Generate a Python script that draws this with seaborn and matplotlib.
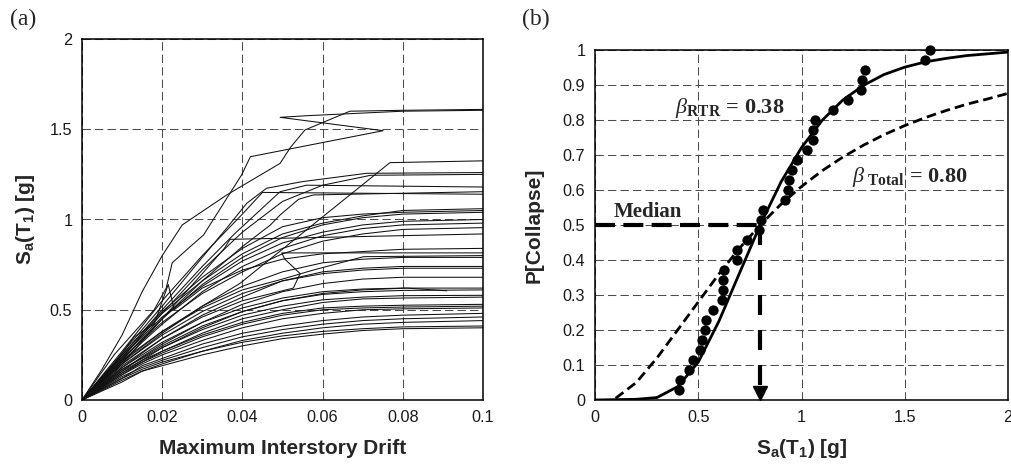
import matplotlib
matplotlib.use("Agg")
import matplotlib.pyplot as plt
import numpy as np
import pandas as pd
import seaborn as sns

# ---------------- data : panel (a) IDA curves ----------------
IDA_DRIFT = [0, 0.01, 0.015, 0.02, 0.03, 0.04, 0.05, 0.06, 0.07, 0.08, 0.1]

ida_low = [
    [0, 0.11, 0.16, 0.19, 0.25, 0.30, 0.34, 0.365, 0.385, 0.395, 0.40],
    [0, 0.12, 0.17, 0.21, 0.27, 0.32, 0.355, 0.38, 0.395, 0.405, 0.41],
    [0, 0.10, 0.16, 0.20, 0.27, 0.33, 0.37, 0.40, 0.42, 0.43, 0.44],
    [0, 0.13, 0.18, 0.22, 0.29, 0.35, 0.39, 0.42, 0.44, 0.45, 0.46],
    [0, 0.12, 0.19, 0.23, 0.31, 0.37, 0.41, 0.44, 0.46, 0.47, 0.48],
    [0, 0.14, 0.20, 0.25, 0.33, 0.40, 0.45, 0.48, 0.50, 0.505, 0.51],
    [0, 0.15, 0.21, 0.26, 0.35, 0.42, 0.47, 0.50, 0.51, 0.515, 0.52],
    [0, 0.16, 0.22, 0.27, 0.36, 0.43, 0.48, 0.51, 0.52, 0.525, 0.53],
    [0, 0.14, 0.21, 0.27, 0.37, 0.45, 0.50, 0.54, 0.56, 0.565, 0.57],
    [0, 0.17, 0.23, 0.29, 0.39, 0.47, 0.52, 0.555, 0.57, 0.578, 0.58],
    [0, 0.15, 0.22, 0.29, 0.40, 0.49, 0.55, 0.585, 0.60, 0.607, 0.61],
    [0, 0.18, 0.25, 0.32, 0.43, 0.51, 0.565, 0.60, 0.615, 0.62, 0.62],
]

ida_mid = [
    [0, 0.16, 0.24, 0.31, 0.43, 0.53, 0.60, 0.645, 0.67, 0.68, 0.68],
    [0, 0.20, 0.28, 0.36, 0.49, 0.59, 0.66, 0.70, 0.72, 0.73, 0.73],
    [0, 0.18, 0.26, 0.34, 0.47, 0.57, 0.66, 0.71, 0.73, 0.74, 0.74],
    [0, 0.22, 0.30, 0.38, 0.52, 0.63, 0.71, 0.76, 0.78, 0.79, 0.79],
    [0, 0.23, 0.33, 0.43, 0.59, 0.71, 0.81, 0.88, 0.92, 0.945, 0.955],
    [0, 0.21, 0.32, 0.42, 0.60, 0.74, 0.84, 0.91, 0.95, 0.97, 0.98],
    [0, 0.24, 0.35, 0.46, 0.63, 0.77, 0.87, 0.93, 0.97, 0.99, 1.0],
    [0, 0.22, 0.34, 0.45, 0.64, 0.79, 0.90, 0.97, 1.01, 1.03, 1.04],
    [0, 0.25, 0.37, 0.49, 0.68, 0.84, 0.96, 1.01, 1.03, 1.04, 1.05],
    [0, 0.23, 0.36, 0.48, 0.66, 0.81, 0.92, 0.98, 1.02, 1.05, 1.06],
]

# irregular records (own drift points)
rec_a_drift = [0, 0.005, 0.01, 0.015, 0.02, 0.025, 0.0361, 0.0494, 0.052, 0.0556, 0.0668, 0.08, 0.1]
rec_a_sa = [0, 0.17, 0.36, 0.60, 0.80, 0.97, 1.136, 1.311, 1.40, 1.496, 1.60, 1.605, 1.61]
rec_b_drift = [0, 0.008, 0.014, 0.018, 0.021, 0.0225, 0.027, 0.0303, 0.0398, 0.042, 0.0751, 0.0494, 0.056, 0.08, 0.1]
rec_b_sa = [0, 0.25, 0.40, 0.50, 0.62, 0.76, 0.85, 0.914, 1.247, 1.348, 1.492, 1.566, 1.575, 1.60, 1.605]
rec_c_drift = [0, 0.01, 0.02, 0.03, 0.0394, 0.0768, 0.1]
rec_c_sa = [0, 0.20, 0.37, 0.52, 0.646, 1.315, 1.325]
rec_d_drift = [0, 0.01, 0.02, 0.03, 0.036, 0.0411, 0.046, 0.055, 0.071, 0.1]
rec_d_sa = [0, 0.26, 0.52, 0.79, 0.95, 1.09, 1.173, 1.21, 1.256, 1.26]
rec_e_drift = [0, 0.01, 0.02, 0.03, 0.04, 0.05, 0.06, 0.072, 0.1]
rec_e_sa = [0, 0.24, 0.48, 0.72, 0.93, 1.10, 1.19, 1.245, 1.25]
rec_f_drift = [0, 0.01, 0.02, 0.03, 0.038, 0.0494, 0.056, 0.1]
rec_f_sa = [0, 0.25, 0.50, 0.74, 0.92, 1.154, 1.19, 1.18]
rec_g_drift = [0, 0.01, 0.02, 0.03, 0.04, 0.047, 0.0494, 0.054, 0.0577, 0.1]
rec_g_sa = [0, 0.22, 0.45, 0.66, 0.85, 0.97, 1.025, 1.112, 1.136, 1.154]
rec_h_drift = [0, 0.01, 0.015, 0.02, 0.03, 0.04, 0.045, 0.1]
rec_h_sa = [0, 0.27, 0.41, 0.55, 0.80, 1.03, 1.15, 1.14]
rec_i_drift = [0, 0.01, 0.02, 0.03, 0.0355, 0.0369, 0.1]
rec_i_sa = [0, 0.20, 0.45, 0.70, 0.84, 0.89, 0.92]
rec_j_drift = [0, 0.01, 0.02, 0.03, 0.04, 0.0527, 0.0544, 0.0506, 0.0498, 0.1]
rec_j_sa = [0, 0.19, 0.34, 0.46, 0.55, 0.62, 0.70, 0.78, 0.815, 0.815]
rec_k_drift = [0, 0.01, 0.02, 0.03, 0.04, 0.05, 0.0577, 0.0702, 0.1]
rec_k_sa = [0, 0.21, 0.38, 0.51, 0.61, 0.67, 0.72, 0.794, 0.80]
rec_l_drift = [0, 0.01, 0.02, 0.03, 0.04, 0.05, 0.06, 0.07, 0.081, 0.091]
rec_l_sa = [0, 0.17, 0.30, 0.41, 0.49, 0.55, 0.59, 0.61, 0.62, 0.605]
rec_m_drift = [0, 0.008, 0.013, 0.018, 0.0215, 0.023, 0.03, 0.04, 0.05, 0.06, 0.08, 0.1]
rec_m_sa = [0, 0.20, 0.35, 0.42, 0.64, 0.50, 0.62, 0.72, 0.78, 0.81, 0.835, 0.84]

# ---------------- data : panel (b) fragility ----------------
COLLAPSE_SA = [0.405, 0.41, 0.456, 0.473, 0.51, 0.518, 0.534, 0.537, 0.571, 0.616,
               0.618, 0.618, 0.626, 0.688, 0.689, 0.734, 0.792, 0.804, 0.813, 0.92,
               0.936, 0.94, 0.954, 0.977, 1.029, 1.054, 1.056, 1.064, 1.154, 1.227,
               1.288, 1.295, 1.308, 1.60, 1.62]
COLLAPSE_P = [0.029, 0.057, 0.086, 0.114, 0.143, 0.171, 0.2, 0.229, 0.257, 0.286,
              0.314, 0.343, 0.371, 0.4, 0.429, 0.457, 0.486, 0.514, 0.543, 0.571,
              0.6, 0.629, 0.657, 0.686, 0.714, 0.743, 0.771, 0.8, 0.829, 0.857,
              0.886, 0.914, 0.943, 0.971, 1.0]

FIT_SA = [0.0, 0.1, 0.2, 0.3, 0.4, 0.5, 0.6, 0.7, 0.8, 0.9, 1.0,
          1.1, 1.2, 1.3, 1.4, 1.5, 1.6, 1.7, 1.8, 1.9, 2.0]
FIT_RTR = [0.0, 0.001, 0.002, 0.007, 0.038, 0.108, 0.225, 0.363, 0.5, 0.622, 0.721,
           0.799, 0.857, 0.899, 0.930, 0.951, 0.966, 0.976, 0.984, 0.989, 0.994]
FIT_SA_TOTAL = [0.1, 0.2, 0.3, 0.4, 0.5, 0.6, 0.7, 0.8, 0.9, 1.0,
                1.1, 1.2, 1.3, 1.4, 1.5, 1.6, 1.7, 1.8, 1.9, 2.0]
FIT_TOTAL = [0.005, 0.05, 0.12, 0.2, 0.28, 0.36, 0.434, 0.5, 0.559, 0.61,
             0.655, 0.694, 0.728, 0.758, 0.784, 0.807, 0.827, 0.845, 0.860, 0.876]

MEDIAN_SA = 0.8
MEDIAN_P = 0.5

# ---------------- build tables ----------------
rows = []
rid = 0
for group in (ida_low, ida_mid):
    for sa_row in group:
        for k, (d, s) in enumerate(zip(IDA_DRIFT, sa_row)):
            rows.append((rid, k, d, s))
        rid += 1
for dr, sa in [(rec_a_drift, rec_a_sa), (rec_b_drift, rec_b_sa), (rec_c_drift, rec_c_sa),
               (rec_d_drift, rec_d_sa), (rec_e_drift, rec_e_sa), (rec_f_drift, rec_f_sa),
               (rec_g_drift, rec_g_sa), (rec_h_drift, rec_h_sa), (rec_i_drift, rec_i_sa),
               (rec_j_drift, rec_j_sa), (rec_k_drift, rec_k_sa), (rec_l_drift, rec_l_sa),
               (rec_m_drift, rec_m_sa)]:
    for k, (d, s) in enumerate(zip(dr, sa)):
        rows.append((rid, k, d, s))
    rid += 1
ida_df = pd.DataFrame(rows, columns=["record", "step", "drift", "sa"])

# ---------------- style ----------------
sns.set_theme(style="white")
plt.rcParams["font.family"] = ["Liberation Sans", "DejaVu Sans"]
plt.rcParams.update({
    "mathtext.fontset": "custom",
    "mathtext.rm": "Liberation Serif",
    "mathtext.it": "Liberation Serif:italic",
    "mathtext.bf": "Liberation Serif:bold",
    "mathtext.sf": "Liberation Sans:bold",
})

W, H = 1011, 465
fig = plt.figure(figsize=(W / 100, H / 100), dpi=100)
axL = fig.add_axes([82 / W, 1 - 400 / H, (483 - 82) / W, (400 - 39) / H])
axR = fig.add_axes([595 / W, 1 - 400 / H, (1008 - 595) / W, (400 - 50) / H])

grid_kw = dict(color="#4d4d4d", linestyle=(0, (8, 4)), linewidth=0.75)

# ---------------- panel (a) ----------------
sns.lineplot(data=ida_df, x="drift", y="sa", units="record", estimator=None,
             sort=False, color="#111111", linewidth=0.75, ax=axL, legend=False)
axL.set_xlim(0, 0.1)
axL.set_ylim(0, 2)
axL.set_xticks([0, 0.02, 0.04, 0.06, 0.08, 0.1])
axL.set_xticklabels(["0", "0.02", "0.04", "0.06", "0.08", "0.1"])
axL.set_yticks([0, 0.5, 1, 1.5, 2])
axL.set_yticklabels(["0", "0.5", "1", "1.5", "2"])
axL.grid(True, **grid_kw)
axL.set_axisbelow(True)
axL.set_xlabel("Maximum Interstory Drift", fontsize=15, fontweight="bold", labelpad=10.5)
axL.set_ylabel(r"$\mathsf{S_a(T_1)\ [g]}$", fontsize=15, labelpad=9.5)

# ---------------- panel (b) ----------------
sns.lineplot(x=FIT_SA, y=FIT_RTR, color="black", linewidth=2.0, ax=axR, sort=False)
sns.lineplot(x=FIT_SA_TOTAL, y=FIT_TOTAL, color="black", linewidth=2.0,
             linestyle=(0, (3.5, 1.8)), ax=axR, sort=False)
sns.scatterplot(x=COLLAPSE_SA, y=COLLAPSE_P, color="black", s=55, linewidth=0,
                ax=axR, zorder=5, clip_on=False)
axR.plot([0, MEDIAN_SA], [MEDIAN_P, MEDIAN_P], color="black", linewidth=3.0,
         linestyle=(0, (4.8, 2.0)), solid_capstyle="butt")
axR.plot([MEDIAN_SA, MEDIAN_SA], [MEDIAN_P, 0.04], color="black", linewidth=3.0,
         linestyle=(0, (4.8, 3.6)))
axR.plot([MEDIAN_SA], [0.021], marker="v", markersize=10.5, color="black",
         linestyle="none")
axR.set_xlim(0, 2)
axR.set_ylim(0, 1)
axR.set_xticks([0, 0.5, 1, 1.5, 2])
axR.set_xticklabels(["0", "0.5", "1", "1.5", "2"])
yt = [0, 0.1, 0.2, 0.3, 0.4, 0.5, 0.6, 0.7, 0.8, 0.9, 1]
axR.set_yticks(yt)
axR.set_yticklabels(["0", "0.1", "0.2", "0.3", "0.4", "0.5", "0.6", "0.7", "0.8", "0.9", "1"])
axR.grid(True, **grid_kw)
axR.set_axisbelow(True)
axR.set_xlabel(r"$\mathsf{S_a(T_1)\ [g]}$", fontsize=15, labelpad=9)
axR.set_ylabel("P[Collapse]", fontsize=15, fontweight="bold", labelpad=13.5)

axR.text(0.089, 0.523, "Median", family="Liberation Serif", fontweight="bold",
         fontsize=15, ha="left", va="baseline")
axR.text(0.385, 0.834, r"$\beta_{\mathbf{RTR}}\mathbf{\,=\,0.38}$", fontsize=16,
         ha="left", va="center")
axR.text(1.245, 0.638, r"$\beta_{\ \mathbf{Total}}\mathbf{\,=\,0.80}$", fontsize=16,
         ha="left", va="center")

for ax in (axL, axR):
    for sp in ax.spines.values():
        sp.set_color("black")
        sp.set_linewidth(1.1)
        sp.set_visible(True)
    ax.tick_params(axis="both", labelsize=11.7, length=0, pad=7, colors="#1a1a1a")

fig.text(10 / W, 1 - 19 / H, "(a)", family="Liberation Serif", fontsize=17,
         ha="left", va="center")
fig.text(522 / W, 1 - 19 / H, "(b)", family="Liberation Serif", fontsize=17,
         ha="left", va="center")

fig.savefig("out.png", dpi=100)
